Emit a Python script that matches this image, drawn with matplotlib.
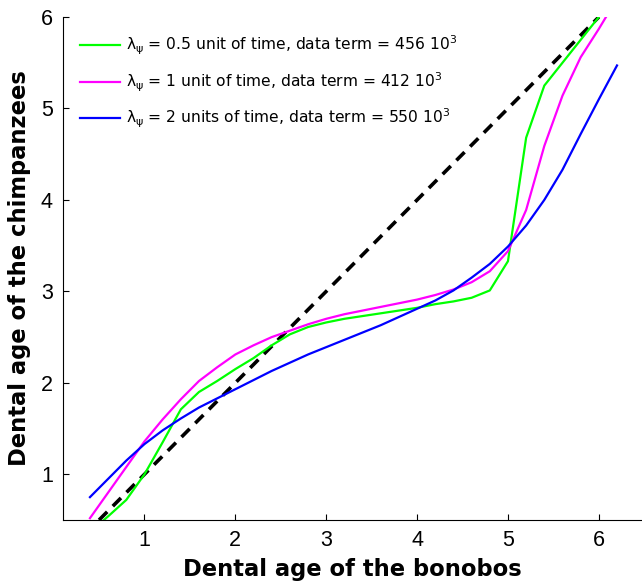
import matplotlib
matplotlib.use("Agg")
import matplotlib.pyplot as plt

plt.rcParams['font.family'] = ['Liberation Sans', 'DejaVu Sans']
plt.rcParams['mathtext.fontset'] = 'dejavusans'

# Data
x_grid = [0.4, 0.6, 0.8, 1.0, 1.2, 1.4, 1.6, 1.8, 2.0, 2.2, 2.4, 2.6, 2.8, 3.0,
          3.2, 3.4, 3.6, 3.8, 4.0, 4.2, 4.4, 4.6, 4.8, 5.0, 5.2, 5.4, 5.6, 5.8,
          6.0, 6.2]

green_y = [0.37, 0.54, 0.72, 1.00, 1.35, 1.71, 1.90, 2.02, 2.15, 2.27, 2.41, 2.53,
           2.61, 2.66, 2.70, 2.73, 2.76, 2.79, 2.82, 2.86, 2.89, 2.93, 3.01, 3.33,
           4.68, 5.25, 5.50, 5.75, 6.00]

magenta_y = [0.52, 0.80, 1.08, 1.36, 1.60, 1.82, 2.02, 2.17, 2.31, 2.41, 2.50, 2.57,
             2.64, 2.70, 2.75, 2.79, 2.83, 2.87, 2.91, 2.96, 3.02, 3.10, 3.22, 3.44,
             3.89, 4.59, 5.14, 5.56, 5.87, 6.20]

blue_y = [0.75, 0.95, 1.15, 1.33, 1.48, 1.61, 1.73, 1.83, 1.93, 2.03, 2.13, 2.22,
          2.31, 2.39, 2.47, 2.55, 2.63, 2.72, 2.81, 2.90, 3.01, 3.15, 3.30, 3.49,
          3.72, 4.00, 4.33, 4.72, 5.10, 5.47]

green_x = x_grid[:len(green_y)]
magenta_x = x_grid
blue_x = x_grid

diag = [0.5, 6.0]

labels = [r'λ$_{\mathrm{ψ}}$ = 0.5 unit of time, data term = 456 10$^3$',
          r'λ$_{\mathrm{ψ}}$ = 1 unit of time, data term = 412 10$^3$',
          r'λ$_{\mathrm{ψ}}$ = 2 units of time, data term = 550 10$^3$']

xticks = [1, 2, 3, 4, 5, 6]
yticks = [1, 2, 3, 4, 5, 6]

fig = plt.figure(figsize=(6.42, 5.86), dpi=100)
ax = fig.add_axes([62.7 / 642, 66 / 586, 1 - 62.7 / 642, 503 / 586])

ax.plot(diag, diag, color='black', linestyle=(0, (3.2, 2.2)), linewidth=2.6)
ax.plot(green_x, green_y, color='#00ff00', linewidth=1.6, label=labels[0])
ax.plot(magenta_x, magenta_y, color='#ff00ff', linewidth=1.6, label=labels[1])
ax.plot(blue_x, blue_y, color='#0000ff', linewidth=1.6, label=labels[2])

ax.set_xlim(0.1, 6.475)
ax.set_ylim(0.5, 6.0)
ax.set_xticks(xticks)
ax.set_yticks(yticks)
ax.tick_params(direction='in', length=4, width=0.8, labelsize=15.5, pad=7)
for s in ['top', 'right']:
    ax.spines[s].set_visible(False)
for s in ['left', 'bottom']:
    ax.spines[s].set_linewidth(0.8)

ax.set_xlabel('Dental age of the bonobos', fontsize=16.3, fontweight='bold',
              family='DejaVu Sans', labelpad=5)
ax.set_ylabel('Dental age of the chimpanzees', fontsize=16.3, fontweight='bold',
              family='DejaVu Sans', labelpad=7)

leg = ax.legend(loc='upper left', frameon=False,
                prop={'family': 'DejaVu Sans', 'size': 11.2},
                handlelength=2.6, handletextpad=0.4, labelspacing=0.85,
                borderaxespad=0.7, bbox_to_anchor=(0.0, 1.0))

fig.savefig('out.png', dpi=100)
